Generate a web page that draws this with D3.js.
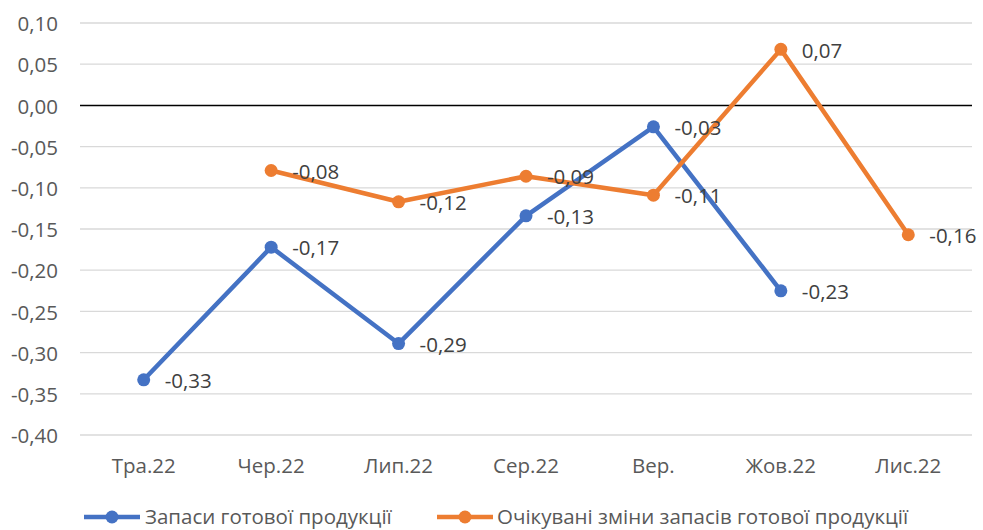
<!DOCTYPE html>
<html>
<head>
<meta charset="utf-8">
<script src="https://cdn.jsdelivr.net/npm/d3@7.9.0/dist/d3.min.js"></script>
<style>
  body { margin: 0; background: #fff; }
  text { font-family: "Open Sans", "Noto Sans", sans-serif; }
</style>
</head>
<body>
<div id="chart"></div>
<script>
const months = ['Тра.22', 'Чер.22', 'Лип.22', 'Сер.22', 'Вер.', 'Жов.22', 'Лис.22'];
const stocks = [-0.333, -0.172, -0.289, -0.134, -0.026, -0.225, null];
const expected = [null, -0.079, -0.117, -0.086, -0.109, 0.068, -0.157];
const yTicks = [0.10, 0.05, 0.00, -0.05, -0.10, -0.15, -0.20, -0.25, -0.30, -0.35, -0.40];
const seriesNames = ['Запаси готової продукції', 'Очікувані зміни запасів готової продукції'];
const colors = ['#4472C4', '#ED7D31'];

const width = 983, height = 530;
const margin = { top: 23, right: 11, bottom: 95, left: 80 };

const svg = d3.select('#chart').append('svg')
  .attr('width', width)
  .attr('height', height);

const x = d3.scalePoint()
  .domain(months)
  .range([margin.left, width - margin.right])
  .padding(0.5);

const y = d3.scaleLinear()
  .domain([-0.40, 0.10])
  .range([height - margin.bottom, margin.top]);

const fmt = (d) => d3.format('.2f')(d).replace('.', ',').replace('−', '-');

// gridlines
svg.append('g')
  .selectAll('line')
  .data(yTicks)
  .join('line')
  .attr('x1', margin.left)
  .attr('x2', width - margin.right)
  .attr('y1', (d) => y(d))
  .attr('y2', (d) => y(d))
  .attr('stroke', (d) => d === 0 ? '#000' : '#d9d9d9')
  .attr('stroke-width', (d) => d === 0 ? 1.5 : 1.3);

// y labels
svg.append('g')
  .selectAll('text')
  .data(yTicks)
  .join('text')
  .attr('x', 58)
  .attr('y', (d) => y(d) + 1)
  .attr('dy', '0.35em')
  .attr('text-anchor', 'end')
  .attr('font-size', 20.5)
  .attr('fill', '#595959')
  .text(fmt);

// x labels
svg.append('g')
  .selectAll('text')
  .data(months)
  .join('text')
  .attr('x', (d) => x(d))
  .attr('y', 466)
  .attr('dy', '0.35em')
  .attr('text-anchor', 'middle')
  .attr('font-size', 20.5)
  .attr('fill', '#595959')
  .text((d) => d);

const series = [stocks, expected];
const line = d3.line()
  .defined((d) => d.v !== null)
  .x((d) => x(d.m))
  .y((d) => y(d.v));

series.forEach((vals, i) => {
  const pts = months.map((m, j) => ({ m, v: vals[j] }));
  const g = svg.append('g');
  g.append('path')
    .datum(pts)
    .attr('d', line)
    .attr('fill', 'none')
    .attr('stroke', colors[i])
    .attr('stroke-width', 4.5)
    .attr('stroke-linejoin', 'round');
  const valid = pts.filter((d) => d.v !== null);
  g.selectAll('circle')
    .data(valid)
    .join('circle')
    .attr('cx', (d) => x(d.m))
    .attr('cy', (d) => y(d.v))
    .attr('r', 6.5)
    .attr('fill', colors[i]);
});

// data labels (drawn on top)
series.forEach((vals, i) => {
  const valid = months.map((m, j) => ({ m, v: vals[j] })).filter((d) => d.v !== null);
  svg.append('g')
    .selectAll('text')
    .data(valid)
    .join('text')
    .attr('x', (d) => x(d.m) + 21)
    .attr('y', (d) => y(d.v) + 1)
    .attr('dy', '0.35em')
    .attr('font-size', 20.5)
    .attr('fill', '#404040')
    .text((d) => fmt(d.v));
});

// legend
const legend = svg.append('g');
const legendPos = [{ x: 84, tx: 145 }, { x: 437, tx: 497 }];
seriesNames.forEach((name, i) => {
  const lg = legend.append('g');
  const p = legendPos[i];
  lg.append('line')
    .attr('x1', p.x).attr('x2', p.x + 56)
    .attr('y1', 517).attr('y2', 517)
    .attr('stroke', colors[i])
    .attr('stroke-width', 4.5);
  lg.append('circle')
    .attr('cx', p.x + 28).attr('cy', 517)
    .attr('r', 6.5)
    .attr('fill', colors[i]);
  lg.append('text')
    .attr('x', p.tx)
    .attr('y', 524)
    .attr('font-size', 20.5)
    .attr('fill', '#595959')
    .text(name);
});
</script>
</body>
</html>
